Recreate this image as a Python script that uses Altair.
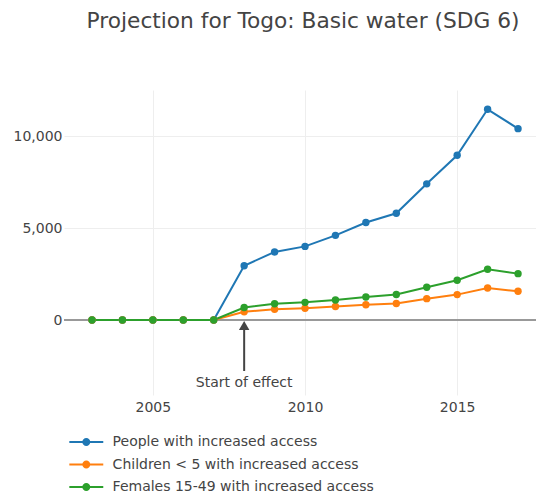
import altair as alt
import pandas as pd

years = list(range(2003, 2018))
people = [0, 0, 0, 0, 0, 2950, 3700, 4000, 4600, 5300, 5800, 7400, 8950, 11450, 10400]
children = [0, 0, 0, 0, 0, 450, 580, 640, 730, 830, 900, 1160, 1380, 1740, 1560]
females = [0, 0, 0, 0, 0, 680, 880, 960, 1090, 1250, 1390, 1780, 2160, 2760, 2520]

series_names = [
    "People with increased access",
    "Children < 5 with increased access",
    "Females 15-49 with increased access",
]
series_values = [people, children, females]
colors = ["#1f77b4", "#ff7f0e", "#2ca02c"]

title_text = "Projection for Togo: Basic water (SDG 6)"
x_ticks = [2005, 2010, 2015]
y_ticks = [0, 5000, 10000]
effect_year = 2008
effect_label = "Start of effect"

rows = []
for name, vals in zip(series_names, series_values):
    for yr, v in zip(years, vals):
        rows.append({"year": yr, "value": v, "series": name})
df = pd.DataFrame(rows)

FONT = "DejaVu Sans"
GREY = "#444444"

x_scale = alt.Scale(domain=[2002.08, 2017.59], nice=False, zero=False)
y_scale = alt.Scale(domain=[-4076, 12500], nice=False, zero=False)

x_enc = alt.X("year:Q", scale=x_scale,
              axis=alt.Axis(values=x_ticks, format="d", title=None, domain=False,
                            ticks=False, grid=True, gridColor="#eeeeee",
                            labelFont=FONT, labelFontSize=14, labelColor=GREY,
                            labelPadding=5))
y_enc = alt.Y("value:Q", scale=y_scale,
              axis=alt.Axis(values=y_ticks, format=",.0f", title=None, domain=False,
                            ticks=False, grid=True, gridColor="#eeeeee",
                            labelFont=FONT, labelFontSize=14, labelColor=GREY,
                            labelPadding=2))

# symbol: horizontal line (±3 units) with a dot; size chosen so the line is 34px long
sym_path = "M-3,0H3M-0.53,0A0.53,0.53,0,1,1,0.53,0A0.53,0.53,0,1,1,-0.53,0"
legend = alt.Legend(title=None, orient="none", legendX=15.3, legendY=345,
                    symbolType=sym_path, symbolSize=128, symbolStrokeWidth=2,
                    labelFont=FONT, labelFontSize=14, labelColor=GREY,
                    labelOffset=19.3, rowPadding=8.5, padding=0, offset=0,
                    labelLimit=400)
color_scale = alt.Scale(domain=series_names, range=colors)

lines = alt.Chart(df).mark_line(strokeWidth=2).encode(
    x=x_enc, y=y_enc,
    stroke=alt.Stroke("series:N", scale=color_scale, legend=legend),
)
points = alt.Chart(df).mark_point(filled=True, size=55, opacity=1).encode(
    x=x_enc, y=y_enc,
    fill=alt.Fill("series:N", scale=color_scale, legend=legend),
)

one = pd.DataFrame({"k": [0]})
zero_line = alt.Chart(one).mark_rule(color="#999999", strokeWidth=2).encode(
    y=alt.datum(0, scale=y_scale)
)
arrow_shaft = alt.Chart(one).mark_rule(color=GREY, strokeWidth=2).encode(
    x=alt.datum(effect_year), y=alt.datum(-2772), y2=alt.datum(-489)
)
arrow_head = alt.Chart(one).mark_point(shape="triangle-up", filled=True, size=110,
                                       color=GREY, opacity=1).encode(
    x=alt.datum(effect_year), y=alt.datum(-300)
)
arrow_text = alt.Chart(one).mark_text(font=FONT, fontSize=14, color=GREY,
                                      baseline="middle").encode(
    x=alt.datum(effect_year), y=alt.datum(-3424), text=alt.value(effect_label)
)

chart = alt.layer(zero_line, lines, points, arrow_shaft, arrow_head, arrow_text).properties(
    width=472, height=305,
    autosize=alt.AutoSizeParams(type="none"),
    padding={"left": 56, "top": 82, "right": 0, "bottom": 98},
    title=alt.TitleParams(title_text, font=FONT, fontSize=21.7, fontWeight="normal",
                          color=GREY, anchor="middle", frame="group",
                          baseline="alphabetic", offset=40, dx=3),
).configure_view(stroke=None).configure_axis(labelFont=FONT)

chart.save("out.html", embed_options={"renderer": "svg", "actions": False})
